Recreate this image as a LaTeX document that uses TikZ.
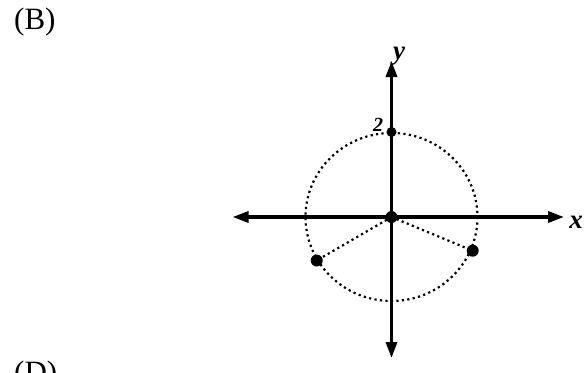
\documentclass[tikz,border=0pt]{standalone}
\usepackage{fontspec}
\setmainfont{Liberation Serif}
\usetikzlibrary{arrows.meta}
\begin{document}
\begin{tikzpicture}[x=1pt,y=-1pt,
  axis/.style={line width=3.3pt,-{Triangle[length=16pt,width=11pt]}},
  dotline/.style={line width=2.2pt,dash pattern=on 2.2pt off 3.3pt},
  pt/.style={circle,fill=black,inner sep=0pt,minimum size=12pt},
  lbl/.style={font=\bfseries\itshape\fontsize{27}{29}\selectfont,inner sep=0pt}]
\useasboundingbox (0,0) rectangle (586,372);
\node[font=\fontsize{31}{33}\selectfont,inner sep=0pt,anchor=west] (B) at (14,22) {(B)};
\node[font=\fontsize{31}{33}\selectfont,inner sep=0pt,anchor=west] (D) at (14,375) {(D)};
\coordinate (O) at (391.5,217);
\coordinate (L) at (316.7,260.5);
\coordinate (R) at (472.7,250.7);
\coordinate (T) at (391.5,132);
\draw[dotline] (O) ellipse [x radius=86, y radius=84];
\draw[dotline] (O) -- (L);
\draw[dotline] (O) -- (R);
\coordinate (xl) at (232.5,217);
\coordinate (xr) at (564,217);
\coordinate (yt) at (391.5,61);
\coordinate (yb) at (391.5,358);
\draw[axis] (O) -- (xr);
\draw[axis] (O) -- (xl);
\draw[axis] (O) -- (yt);
\draw[axis] (O) -- (yb);
\node[pt] (o) at (O) {};
\node[pt] (l) at (L) {};
\node[pt] (r) at (R) {};
\node[pt,minimum size=10pt] (t) at (T) {};
\node[lbl] (xlab) at (576,222) {x};
\node[lbl] (ylab) at (399,56) {y};
\node[lbl,font=\bfseries\itshape\fontsize{20}{21}\selectfont] (two) at (378,125) {2};
\end{tikzpicture}
\end{document}
